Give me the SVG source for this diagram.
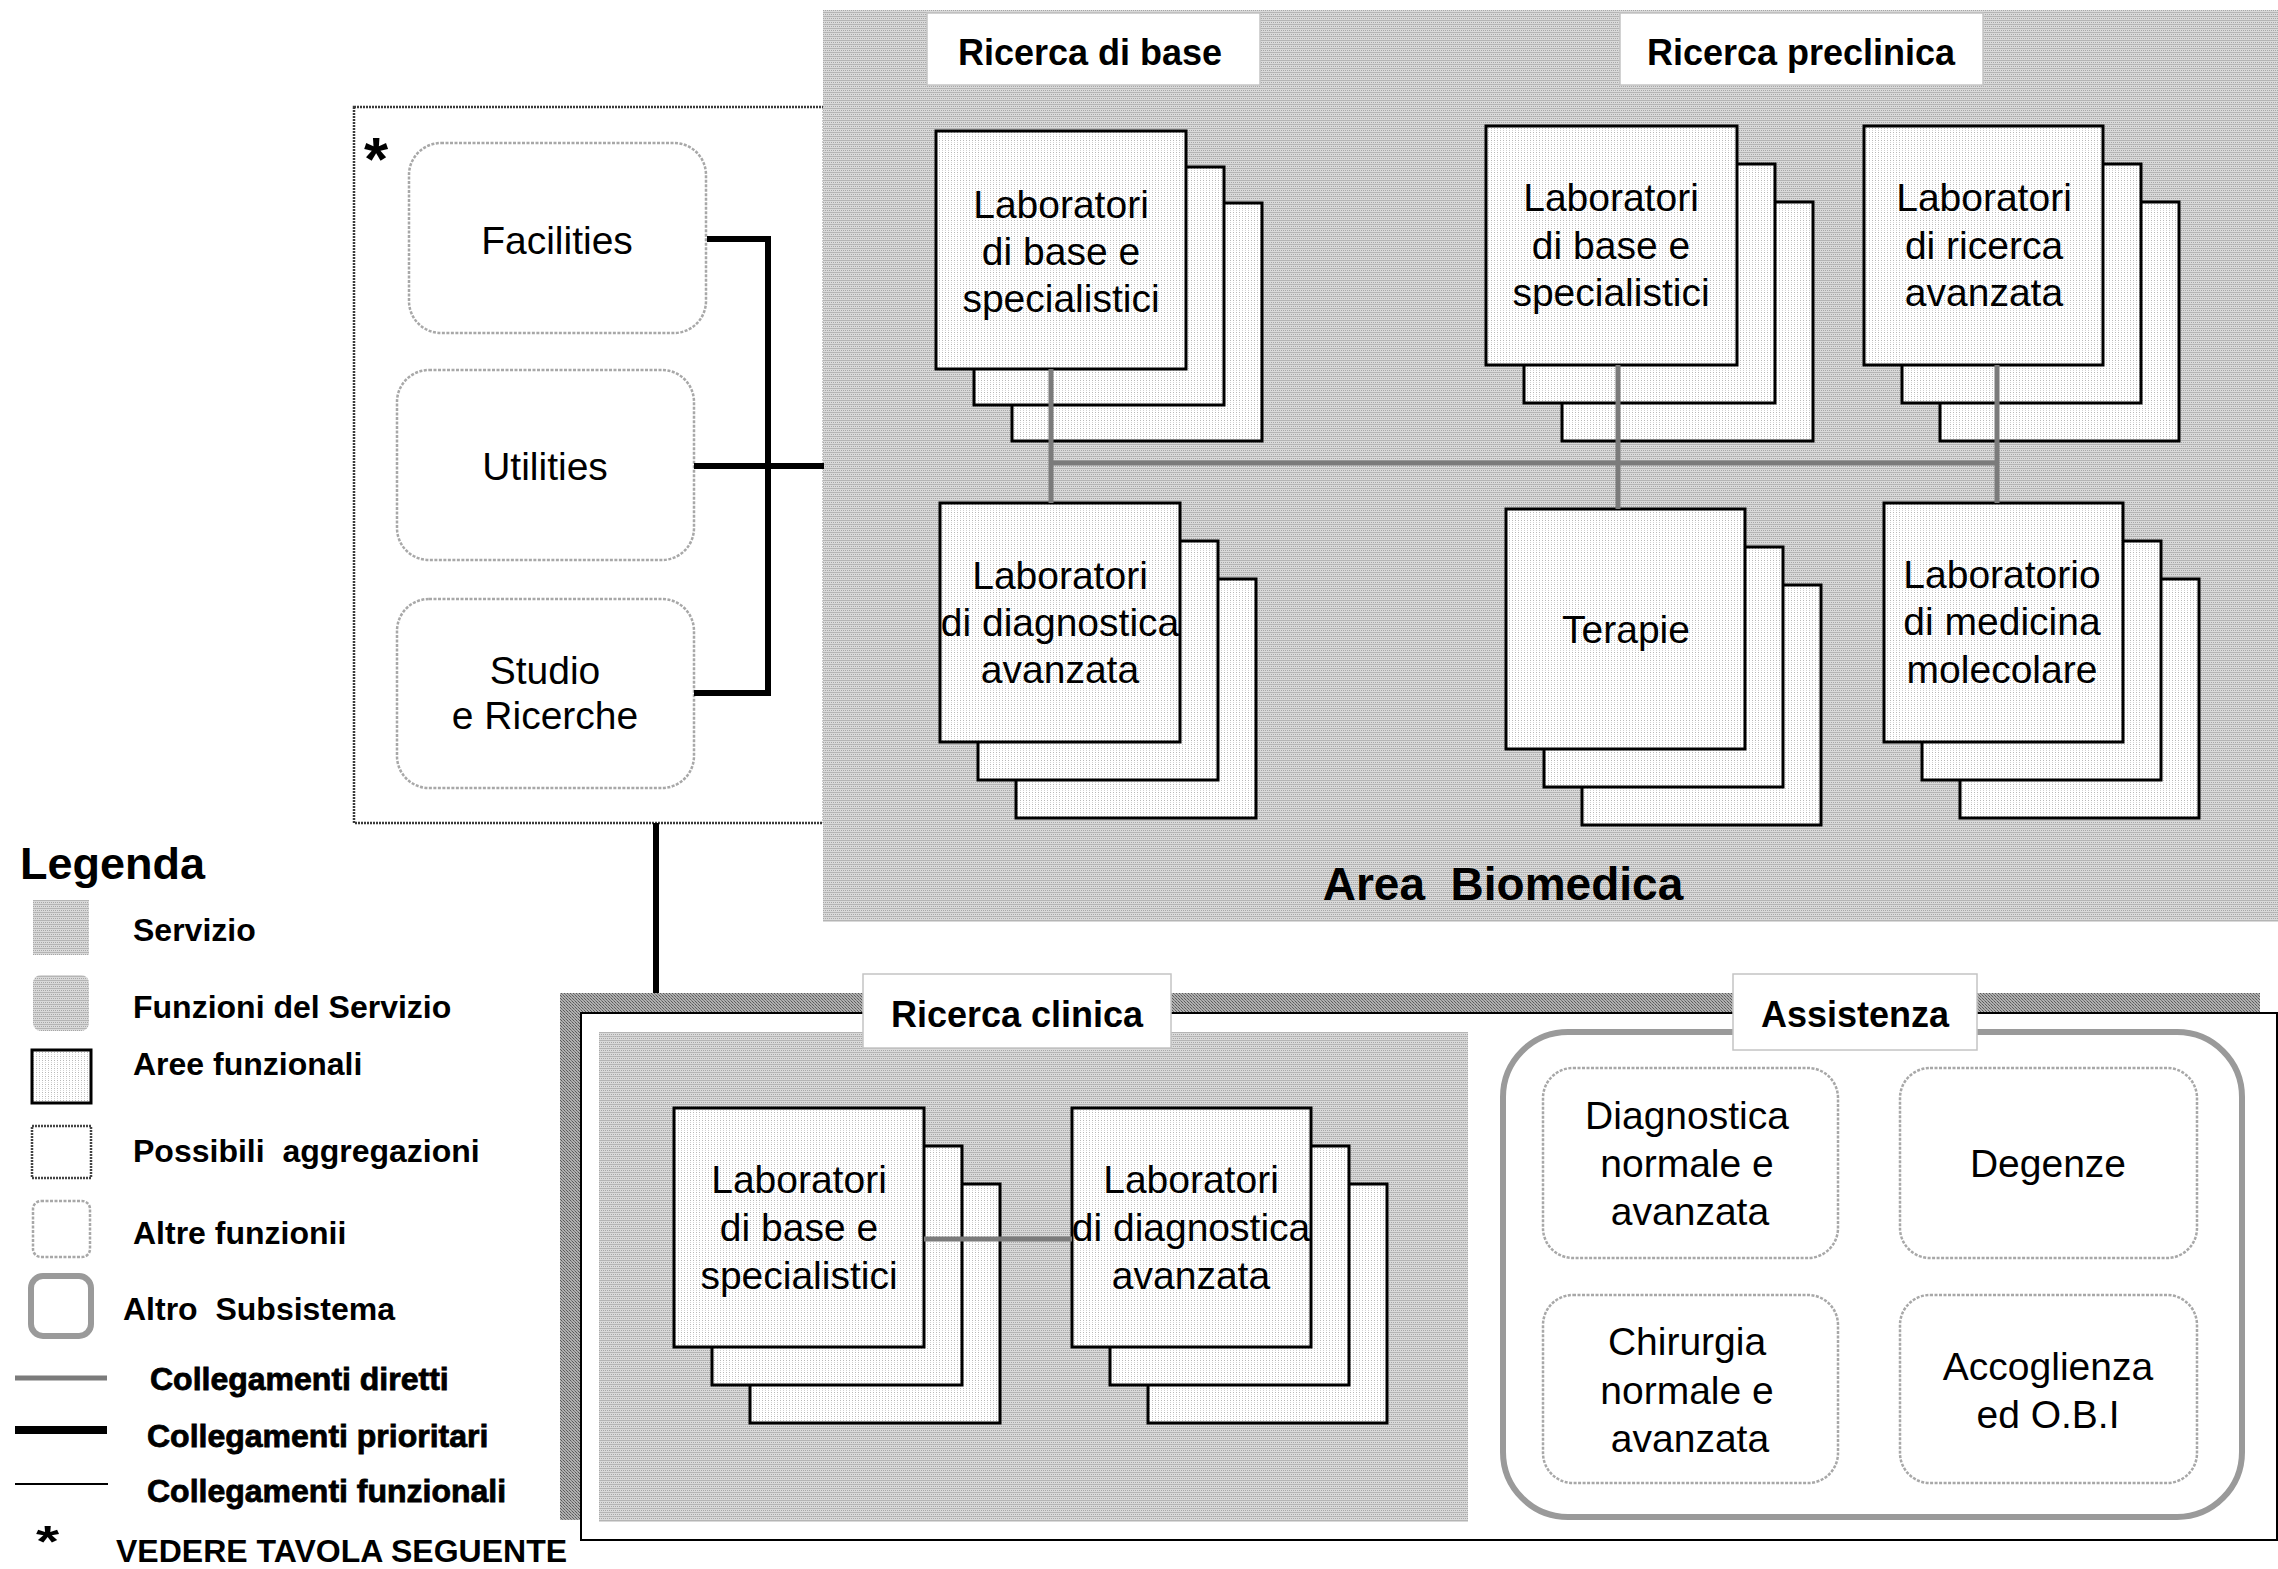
<svg xmlns="http://www.w3.org/2000/svg" width="2278" height="1569" viewBox="0 0 2278 1569">
  <defs>
    <!-- halftone fill used for the "Servizio" areas -->
    <pattern id="pSvc" width="4" height="4" patternUnits="userSpaceOnUse">
      <rect width="4" height="4" fill="#d9d9d9"/>
      <rect width="4" height="1" fill="#b4b4b4"/>
      <rect x="1" y="2" width="1" height="1" fill="#a6a6a6"/>
      <rect x="3" y="2" width="1" height="1" fill="#a6a6a6"/>
    </pattern>
    <!-- light dotted fill for the functional-area cards -->
    <pattern id="pArea" width="3" height="4" patternUnits="userSpaceOnUse">
      <rect width="3" height="4" fill="#ffffff"/>
      <rect width="1" height="1" fill="#b8b8b8"/>
      <rect x="0" y="2" width="1" height="1" fill="#d4d4d4"/>
    </pattern>
    <!-- dark crosshatch used for the frame shadow -->
    <pattern id="pBand" width="3" height="3" patternUnits="userSpaceOnUse">
      <rect width="3" height="3" fill="#b0b0b0"/>
      <rect width="1" height="1" fill="#5a5a5a"/>
      <rect x="1" y="1" width="1" height="1" fill="#7a7a7a"/>
      <rect x="2" y="2" width="1" height="1" fill="#5a5a5a"/>
    </pattern>
    <style>
      .t{font-family:"Liberation Sans",Arial,Helvetica,sans-serif;fill:#000}
      .box{font-size:39px;text-anchor:middle}
      .ttl{font-size:36px;font-weight:bold;text-anchor:middle}
      .leg{font-size:32px;font-weight:bold}
      .heavy{stroke:#000;stroke-width:0.8}
      .lab{fill:url(#pArea);stroke:#000;stroke-width:3}
      .svc{fill:url(#pSvc)}
      .tag{fill:#fff;stroke:#c4c4c4;stroke-width:1.5}
      .other{fill:#fff;stroke:#a8a8a8;stroke-width:2.5;stroke-dasharray:3 1.5}
      .sub{fill:#fff;stroke:#9a9a9a;stroke-width:6}
      .direct{stroke:#7b7b7b;stroke-width:5;fill:none}
      .prio{stroke:#000;stroke-width:6;fill:none}
    </style>
  </defs>

  <rect width="2278" height="1569" fill="#fff"/>

  <!-- support services box (see following sheet) -->
  <g id="support">
    <rect x="354" y="107" width="470" height="716" fill="#fff" stroke="#3a3a3a" stroke-width="2.5" stroke-dasharray="2 1"/>
    <text class="t" x="364" y="180" font-size="62" font-weight="bold">*</text>
  </g>
  <g id="facilities">
    <rect class="other" x="409" y="143" width="297" height="190" rx="32"/>
    <text class="t box" x="557" y="254">Facilities</text>
  </g>
  <g id="utilities">
    <rect class="other" x="397" y="370" width="297" height="190" rx="32"/>
    <text class="t box" x="545" y="480">Utilities</text>
  </g>
  <g id="studio">
    <rect class="other" x="397" y="599" width="297" height="189" rx="32"/>
    <text class="t box"><tspan x="545" y="684">Studio</tspan><tspan x="545" y="729">e Ricerche</tspan></text>
  </g>

  <!-- Area Biomedica -->
  <g id="area-biomedica">
    <rect class="svc" x="823" y="10" width="1455" height="912"/>
    <rect class="tag" x="927" y="13" width="333" height="72"/>
    <text class="t ttl" x="1090" y="65">Ricerca di base</text>
    <rect class="tag" x="1620" y="13" width="363" height="72"/>
    <text class="t ttl" x="1801" y="65">Ricerca preclinica</text>
    <text class="t" x="1503" y="900" font-size="46" font-weight="bold" text-anchor="middle" xml:space="preserve">Area  Biomedica</text>
  </g>

  <g id="lab-base-rb">
    <rect class="lab" x="1012" y="203" width="250" height="238"/>
    <rect class="lab" x="974" y="167" width="250" height="238"/>
    <rect class="lab" x="936" y="131" width="250" height="238"/>
    <text class="t box"><tspan x="1061" y="218">Laboratori</tspan><tspan x="1061" y="265">di base e</tspan><tspan x="1061" y="312">specialistici</tspan></text>
  </g>
  <g id="lab-base-rp">
    <rect class="lab" x="1562" y="202" width="251" height="239"/>
    <rect class="lab" x="1524" y="164" width="251" height="239"/>
    <rect class="lab" x="1486" y="126" width="251" height="239"/>
    <text class="t box"><tspan x="1611" y="211">Laboratori</tspan><tspan x="1611" y="259">di base e</tspan><tspan x="1611" y="306">specialistici</tspan></text>
  </g>
  <g id="lab-ricerca-avanzata">
    <rect class="lab" x="1940" y="202" width="239" height="239"/>
    <rect class="lab" x="1902" y="164" width="239" height="239"/>
    <rect class="lab" x="1864" y="126" width="239" height="239"/>
    <text class="t box"><tspan x="1984" y="211">Laboratori</tspan><tspan x="1984" y="259">di ricerca</tspan><tspan x="1984" y="306">avanzata</tspan></text>
  </g>
  <g id="lab-diagnostica-rb">
    <rect class="lab" x="1016" y="579" width="240" height="239"/>
    <rect class="lab" x="978" y="541" width="240" height="239"/>
    <rect class="lab" x="940" y="503" width="240" height="239"/>
    <text class="t box"><tspan x="1060" y="589">Laboratori</tspan><tspan x="1060" y="636">di diagnostica</tspan><tspan x="1060" y="683">avanzata</tspan></text>
  </g>
  <g id="terapie">
    <rect class="lab" x="1582" y="585" width="239" height="240"/>
    <rect class="lab" x="1544" y="547" width="239" height="240"/>
    <rect class="lab" x="1506" y="509" width="239" height="240"/>
    <text class="t box" x="1626" y="643">Terapie</text>
  </g>
  <g id="lab-medicina-molecolare">
    <rect class="lab" x="1960" y="579" width="239" height="239"/>
    <rect class="lab" x="1922" y="541" width="239" height="239"/>
    <rect class="lab" x="1884" y="503" width="239" height="239"/>
    <text class="t box"><tspan x="2002" y="588">Laboratorio</tspan><tspan x="2002" y="635">di medicina</tspan><tspan x="2002" y="683">molecolare</tspan></text>
  </g>

  <!-- lower frame: Ricerca clinica + Assistenza -->
  <g id="frame-clinica">
    <rect x="560" y="993" width="1700" height="527" fill="url(#pBand)"/>
    <rect x="581" y="1013" width="1696" height="527" fill="#fff" stroke="#000" stroke-width="2"/>
  </g>
  <g id="ricerca-clinica">
    <rect class="svc" x="599" y="1032" width="869" height="490"/>
    <rect class="tag" x="863" y="974" width="308" height="74"/>
    <text class="t ttl" x="1017" y="1027">Ricerca clinica</text>
  </g>
  <g id="lab-base-rc">
    <rect class="lab" x="750" y="1184" width="250" height="239"/>
    <rect class="lab" x="712" y="1146" width="250" height="239"/>
    <rect class="lab" x="674" y="1108" width="250" height="239"/>
    <text class="t box"><tspan x="799" y="1193">Laboratori</tspan><tspan x="799" y="1241">di base e</tspan><tspan x="799" y="1289">specialistici</tspan></text>
  </g>
  <g id="lab-diagnostica-rc">
    <rect class="lab" x="1148" y="1184" width="239" height="239"/>
    <rect class="lab" x="1110" y="1146" width="239" height="239"/>
    <rect class="lab" x="1072" y="1108" width="239" height="239"/>
    <text class="t box"><tspan x="1191" y="1193">Laboratori</tspan><tspan x="1191" y="1241">di diagnostica</tspan><tspan x="1191" y="1289">avanzata</tspan></text>
  </g>

  <g id="assistenza">
    <rect class="sub" x="1503" y="1032" width="739" height="485" rx="65"/>
    <rect class="tag" x="1733" y="974" width="244" height="76" stroke="#a0a0a0" stroke-width="2.5"/>
    <text class="t ttl" x="1855" y="1027">Assistenza</text>
  </g>
  <g id="diagnostica">
    <rect class="other" x="1543" y="1068" width="295" height="190" rx="30"/>
    <text class="t box"><tspan x="1687" y="1129">Diagnostica</tspan><tspan x="1687" y="1177">normale e</tspan><tspan x="1690" y="1225">avanzata</tspan></text>
  </g>
  <g id="degenze">
    <rect class="other" x="1900" y="1068" width="297" height="190" rx="30"/>
    <text class="t box" x="2048" y="1177">Degenze</text>
  </g>
  <g id="chirurgia">
    <rect class="other" x="1543" y="1295" width="295" height="188" rx="30"/>
    <text class="t box"><tspan x="1687" y="1355">Chirurgia</tspan><tspan x="1687" y="1404">normale e</tspan><tspan x="1690" y="1452">avanzata</tspan></text>
  </g>
  <g id="accoglienza">
    <rect class="other" x="1900" y="1295" width="297" height="188" rx="30"/>
    <text class="t box"><tspan x="2048" y="1380">Accoglienza</tspan><tspan x="2048" y="1428">ed O.B.I</tspan></text>
  </g>

  <!-- legend -->
  <g id="legenda">
    <text class="t" x="20" y="879" font-size="45" font-weight="bold">Legenda</text>
    <rect class="svc" x="33" y="900" width="56" height="55"/>
    <text class="t leg" x="133" y="941">Servizio</text>
    <rect class="svc" x="33" y="975" width="56" height="56" rx="8"/>
    <text class="t leg" x="133" y="1018">Funzioni del Servizio</text>
    <rect class="lab" x="32" y="1050" width="59" height="53"/>
    <text class="t leg" x="133" y="1075">Aree funzionali</text>
    <rect x="32" y="1126" width="59" height="52" fill="#fff" stroke="#444" stroke-width="2.5" stroke-dasharray="2 1"/>
    <text class="t leg" x="133" y="1162" xml:space="preserve">Possibili  aggregazioni</text>
    <rect class="other" x="33" y="1201" width="57" height="56" rx="8" stroke-width="2"/>
    <text class="t leg" x="133" y="1244">Altre funzionii</text>
    <rect class="sub" x="31" y="1276" width="60" height="60" rx="12" stroke-width="5"/>
    <text class="t leg" x="123" y="1320" xml:space="preserve">Altro  Subsistema</text>
    <line class="direct" x1="15" y1="1378" x2="107" y2="1378" stroke-width="6"/>
    <text class="t leg heavy" x="150" y="1390">Collegamenti diretti</text>
    <line x1="15" y1="1430" x2="107" y2="1430" stroke="#000" stroke-width="8"/>
    <text class="t leg heavy" x="147" y="1447">Collegamenti prioritari</text>
    <line x1="15" y1="1484" x2="108" y2="1484" stroke="#000" stroke-width="2"/>
    <text class="t leg heavy" x="147" y="1502">Collegamenti funzionali</text>
    <text class="t" transform="translate(36 1557) scale(1.35 1)" font-size="44" font-weight="bold">*</text>
    <text class="t leg" x="116" y="1562">VEDERE TAVOLA SEGUENTE</text>
  </g>

  <!-- connectors -->
  <g id="connectors">
    <path class="direct" d="M1051 369V503 M1618 365V509 M1997 365V503 M1051 463H1997 M924 1239H1072"/>
    <path class="prio" d="M707 239H768V693H694 M694 466H824 M656 823V993"/>
  </g>
</svg>
